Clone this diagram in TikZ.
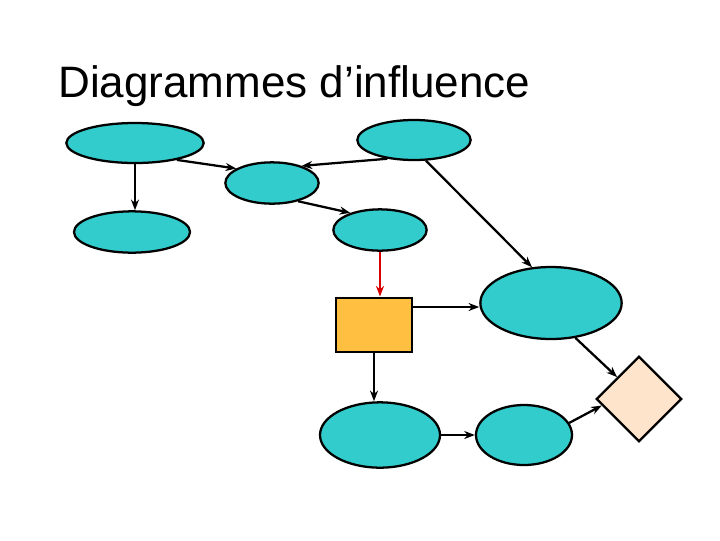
\documentclass[tikz,border=0pt]{standalone}
\usepackage{fontspec}
\setmainfont{Liberation Sans}
\usetikzlibrary{shapes.geometric,arrows.meta}
\begin{document}
\begin{tikzpicture}[x=0.75pt,y=-0.75pt]
\definecolor{cy}{HTML}{33CCCC}
\definecolor{og}{HTML}{FFBF40}
\definecolor{pk}{HTML}{FFE4CC}
\tikzset{el/.style={ellipse,draw=black,line width=1.7pt,fill=cy,inner sep=0pt},
 ar/.style={-{Stealth[length=8pt,width=6pt]},line width=1.7pt}}
\useasboundingbox (0,0) rectangle (720,540);
\node[anchor=base west,font=\fontsize{33}{36}\selectfont,inner sep=0pt] (t) at (58,97) {Diagrammes d’influence};
\node[el,minimum width=103pt,minimum height=30pt] (e1) at (135,143) {};
\node[el,minimum width=85pt,minimum height=30pt] (e2) at (414,140) {};
\node[el,minimum width=70pt,minimum height=31pt] (e3) at (272,183) {};
\node[el,minimum width=87pt,minimum height=31pt] (e4) at (132,232) {};
\node[el,minimum width=70pt,minimum height=31pt] (e5) at (380,230) {};
\node[el,minimum width=106pt,minimum height=54pt] (e6) at (551,303) {};
\node[draw=black,line width=1.7pt,fill=og,minimum width=57pt,minimum height=41pt,inner sep=0pt] (r) at (374,325) {};
\node[el,minimum width=90pt,minimum height=49pt] (e7) at (380,435) {};
\node[el,minimum width=72pt,minimum height=45pt] (e8) at (524,435) {};
\node[diamond,draw=black,line width=1.7pt,fill=pk,minimum width=64pt,minimum height=64pt,inner sep=0pt] (d) at (639,399) {};
\draw[ar] (e1.-22) -- (e3.158);
\draw[ar] (e1.south) -- (e1.south|-e4.north);
\draw[ar] (e2.-145) -- (e3.30);
\draw[ar] (e3.-35) -- (e5.150);
\draw[ar] (e2.-60) -- (e6.118);
\draw[ar,draw=red!85!black] (e5.south) -- (e5.south|-r.north);
\draw[ar] (r.east|-e6.west) ++(0,4) coordinate (q) -- (q-|e6.west);
\draw[ar] (r.south) -- (r.south|-e7.north);
\draw[ar] (e6.-55) -- (d.135);
\draw[ar] (e7.east) -- (e8.west);
\draw[ar] (e8.15) -- (d.190);
\end{tikzpicture}
\end{document}
